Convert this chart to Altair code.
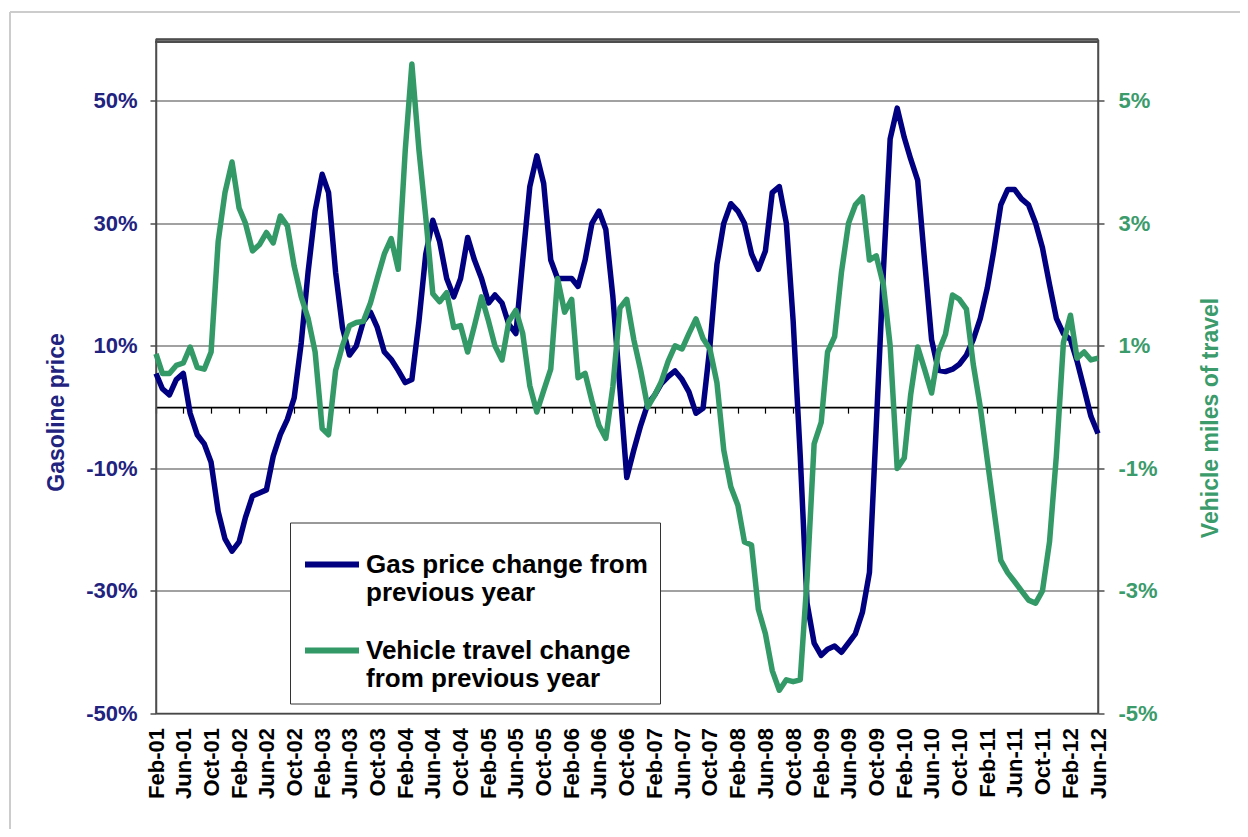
import altair as alt
import pandas as pd

# ---------------- data ----------------
months = pd.date_range("2001-02-01", "2012-06-01", freq="MS").strftime("%Y-%m-%d").tolist()

gas_change = [
    5.5, 3.0, 2.0, 4.5, 5.5, -1.0, -4.5, -6.0, -9.0, -17.0, -21.5, -23.5,
    -22.0, -18.0, -14.5, -14.0, -13.5, -8.0, -4.5, -2.0, 1.5, 10.5, 22.0, 32.0,
    38.0, 35.0, 22.0, 13.0, 8.5, 10.0, 14.0, 15.5, 13.0, 9.0, 7.8, 6.0,
    4.0, 4.5, 14.0, 25.0, 30.5, 27.0, 21.0, 18.0, 21.0, 27.7, 24.0, 21.0,
    17.0, 18.3, 17.0, 13.5, 12.0, 24.0, 36.0, 41.0, 36.5, 24.0, 21.0, 21.0,
    21.0, 19.7, 24.0, 30.0, 32.0, 29.0, 18.0, 3.0, -11.5, -7.0, -3.0, 0.5,
    2.0, 3.8, 5.0, 5.9, 4.5, 2.5, -1.0, -0.2, 9.8, 23.3, 30.0, 33.2,
    32.0, 30.0, 25.0, 22.5, 25.5, 35.0, 36.0, 30.0, 14.0, -8.0, -32.0, -38.5,
    -40.5, -39.5, -39.0, -40.0, -38.5, -37.0, -33.5, -27.0, -3.0, 22.0, 43.8, 48.8,
    44.0, 40.5, 37.0, 24.0, 11.0, 6.0, 5.8, 6.2, 7.0, 8.5, 11.0, 14.5,
    19.5, 25.5, 33.0, 35.5, 35.5, 34.0, 33.0, 30.0, 26.0, 20.0, 14.5, 12.0,
    11.0, 7.5, 3.0, -1.5, -4.3,
]

travel_change = [
    0.87, 0.55, 0.55, 0.68, 0.72, 0.98, 0.65, 0.62, 0.9, 2.7, 3.5, 4.0,
    3.25, 3.0, 2.55, 2.65, 2.85, 2.68, 3.12, 2.96, 2.3, 1.8, 1.45, 0.9,
    -0.35, -0.45, 0.6, 1.0, 1.33, 1.38, 1.4, 1.7, 2.1, 2.5, 2.75, 2.25,
    4.2, 5.6, 4.2, 3.1, 1.85, 1.72, 1.87, 1.3, 1.33, 0.9, 1.33, 1.8,
    1.4, 1.0, 0.77, 1.4, 1.58, 1.2, 0.35, -0.08, 0.27, 0.62, 2.1, 1.55,
    1.76, 0.48, 0.55, 0.1, -0.3, -0.51, 0.34, 1.62, 1.76, 1.1, 0.6, 0.0,
    0.2, 0.41, 0.75, 1.0, 0.95, 1.2, 1.44, 1.12, 0.95, 0.4, -0.7, -1.3,
    -1.6, -2.2, -2.25, -3.3, -3.7, -4.3, -4.62, -4.45, -4.48, -4.45, -2.8, -0.6,
    -0.25, 0.9, 1.15, 2.2, 3.0, 3.3, 3.43, 2.4, 2.47, 2.0, 1.0, -1.0,
    -0.83, 0.2, 0.98, 0.62, 0.23, 0.9, 1.19, 1.83, 1.76, 1.6, 0.7, 0.0,
    -0.87, -1.65, -2.5, -2.7, -2.85, -3.0, -3.15, -3.2, -3.0, -2.2, -0.8, 1.05,
    1.5, 0.8, 0.9, 0.77, 0.8,
]

gas_ticks = [-50, -30, -10, 10, 30, 50]
travel_ticks = [-5, -3, -1, 1, 3, 5]
gas_axis_top = 60

GAS_LABEL = "Gas price change from previous year"
TRAVEL_LABEL = "Vehicle travel change from previous year"

df = pd.DataFrame({"month": months, "gas": gas_change, "travel": travel_change})

tick_months = pd.date_range("2001-02-01", "2012-06-01", freq="4MS")
tick_values = [alt.DateTime(year=int(d.year), month=int(d.month), date=1, utc=True) for d in tick_months]

# ---------------- style ----------------
FONT = "Liberation Sans"
NAVY = "#000080"
GREEN = "#339966"
NAVY_TXT = "#22227f"
GREEN_TXT = "#3b9b6b"
FRAME = "#4d4d4d"
W, H = 942, 674
zero_offset = -(H - H * 60 / 110)   # move the second x axis up to the 0 line

x_scale = alt.Scale(
    type="utc",
    domain=[alt.DateTime(year=2001, month=2, date=1, utc=True),
            alt.DateTime(year=2012, month=6, date=1, utc=True)],
)
gas_scale = alt.Scale(domain=[-50, gas_axis_top], nice=False, zero=False)

color_scale = alt.Scale(domain=[GAS_LABEL, TRAVEL_LABEL], range=[NAVY, GREEN])
legend = alt.Legend(
    orient="none", legendX=134, legendY=483, title=None,
    symbolType="stroke", symbolSize=2916, symbolStrokeWidth=6,
    labelFont=FONT, labelFontSize=26, labelFontWeight="bold", labelColor="black",
    labelLimit=0, labelOffset=4, labelBaseline="middle", rowPadding=15, padding=12,
    fillColor="white", strokeColor="#333333",
    labelExpr=("datum.label == '" + GAS_LABEL + "' ? ['Gas price change from', 'previous year']"
               " : ['Vehicle travel change', 'from previous year']"),
)

base = alt.Chart(df)

gas_line = base.transform_calculate(series="'" + GAS_LABEL + "'").mark_line(
    strokeWidth=5.5, strokeJoin="round"
).encode(
    x=alt.X("month:T", scale=x_scale, axis=alt.Axis(
        values=tick_values, labelExpr="utcFormat(datum.value, '%b-%y')",
        labelAngle=270, labelAlign="right", labelBaseline="middle",
        labelFont=FONT, labelFontSize=22, labelFontWeight="bold", labelColor="black",
        labelPadding=14, ticks=False, tickSize=0, domain=False, grid=False,
        title=None, labelOverlap=False, labelFlush=False, orient="bottom")),
    y=alt.Y("gas:Q", scale=gas_scale, axis=alt.Axis(
        orient="left", values=gas_ticks, labelExpr="datum.value + '%'",
        labelFont=FONT, labelFontSize=22, labelFontWeight="bold", labelColor=NAVY_TXT,
        labelPadding=13, labelFlush=False,
        ticks=True, tickSize=6, tickColor=FRAME, tickWidth=1.5,
        domain=True, domainColor=FRAME, domainWidth=1.5,
        grid=True, gridColor="#444444", gridWidth=1.2,
        title="Gasoline price", titleFont=FONT, titleFontSize=23, titleFontWeight="bold",
        titleColor=NAVY_TXT, titleAngle=270, titleBaseline="alphabetic", titleAlign="center",
        titleX=-93, titleY=372.5)),
    color=alt.Color("series:N", scale=color_scale, legend=legend),
)

# top edge of the plot frame, placed at the top of the gasoline scale
top_rule = alt.Chart(alt.Data(values=[{"k": 0}])).mark_rule(
    color=FRAME, strokeWidth=2.5
).encode(y=alt.datum(gas_axis_top))

gas = alt.layer(gas_line, top_rule)

travel = base.transform_calculate(series="'" + TRAVEL_LABEL + "'").mark_line(
    strokeWidth=5.5, strokeJoin="round"
).encode(
    x=alt.X("month:T", scale=x_scale, axis=alt.Axis(
        values=tick_values, labels=False, ticks=True, tickSize=6, tickColor="black",
        tickWidth=1.2, domain=True, domainColor="black", domainWidth=1.6, grid=False,
        title=None, orient="bottom", offset=zero_offset)),
    y=alt.Y("travel:Q", scale=alt.Scale(domain=[-5, 6], nice=False, zero=False), axis=alt.Axis(
        orient="right", values=travel_ticks, labelExpr="datum.value + '%'",
        labelFont=FONT, labelFontSize=22, labelFontWeight="bold", labelColor=GREEN_TXT,
        labelPadding=14, labelFlush=False,
        ticks=True, tickSize=6, tickColor=FRAME, tickWidth=1.5,
        domain=True, domainColor=FRAME, domainWidth=1.5, grid=False,
        title="Vehicle miles of travel", titleFont=FONT, titleFontSize=23, titleFontWeight="bold",
        titleColor=GREEN_TXT, titleAngle=270, titleBaseline="alphabetic", titleAlign="center",
        titleX=119, titleY=378)),
    color=alt.Color("series:N", scale=color_scale, legend=legend),
)

# outer light border of the picture and a second copy of the plot top edge
frame_data = alt.Data(values=[{"k": 0}])
frame_top = alt.Chart(frame_data).mark_rule(color="#cccccc", strokeWidth=2).encode(
    x=alt.value(-146), x2=alt.value(1200), y=alt.value(-27.5))
frame_left = alt.Chart(frame_data).mark_rule(color="#cccccc", strokeWidth=2).encode(
    x=alt.value(-146), y=alt.value(-27.5), y2=alt.value(900))
plot_top = alt.Chart(frame_data).mark_rule(color=FRAME, strokeWidth=2).encode(
    x=alt.value(-1), x2=alt.value(W + 1), y=alt.value(2.5))

chart = alt.layer(gas, travel, frame_top, frame_left, plot_top).resolve_scale(
    y="independent"
).resolve_axis(
    x="independent", y="independent"
).properties(
    width=W, height=H,
    autosize=alt.AutoSizeParams(type="none"),
    padding={"left": 148, "top": 31.5, "right": 142, "bottom": 115},
    background="white",
).configure(
    font=FONT
).configure_view(
    stroke=FRAME, strokeWidth=1.5
)

chart.save("out.html", embed_options={"renderer": "svg", "actions": False})
